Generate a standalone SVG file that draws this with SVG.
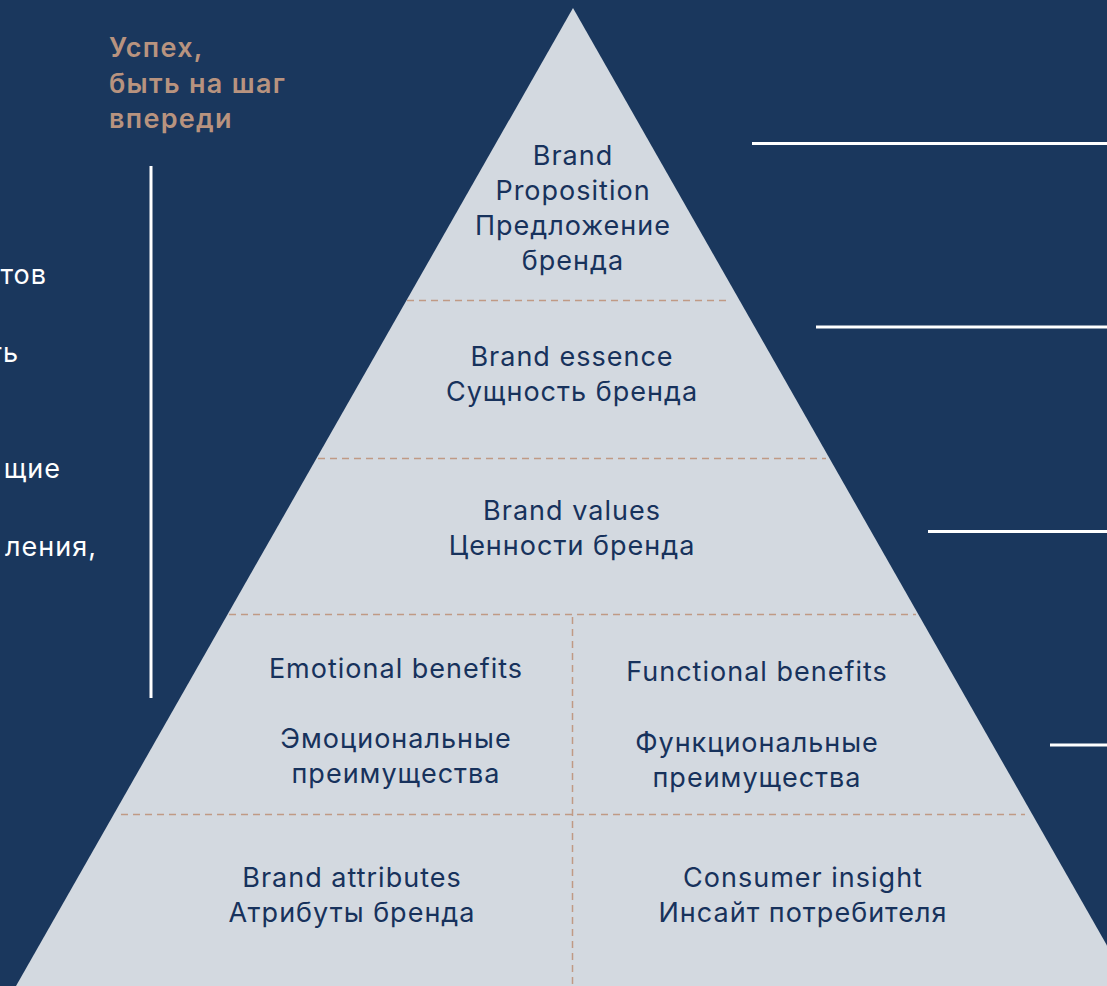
<svg xmlns="http://www.w3.org/2000/svg" width="1107" height="986" viewBox="0 0 1107 986">
  <style>
    .lbl { font-family: Inter, "Noto Sans", "Liberation Sans", sans-serif; font-size: 27px; letter-spacing: 1px; fill: #17325c; text-anchor: middle; }
    .side { font-family: Inter, "Noto Sans", "Liberation Sans", sans-serif; font-size: 27px; letter-spacing: 1px; fill: #ffffff; text-anchor: end; }
    .accent { font-family: Inter, "Noto Sans", "Liberation Sans", sans-serif; font-size: 27px; letter-spacing: 1.3px; font-weight: 600; fill: #b8937f; }
    .rule { stroke: #ffffff; stroke-width: 3; fill: none; }
    .dash { stroke: #c09a85; stroke-width: 1.5; stroke-dasharray: 7 5; fill: none; }
  </style>

  <!-- background -->
  <rect x="0" y="0" width="1107" height="986" fill="#1a375d"/>

  <!-- accent heading -->
  <g id="heading">
    <text class="accent" x="109" y="57">Успех,</text>
    <text class="accent" x="109" y="93">быть на шаг</text>
    <text class="accent" x="109" y="128">впереди</text>
  </g>

  <!-- left side text ends -->
  <g id="side-text">
    <text class="side" x="47" y="284">тов</text>
    <text class="side" x="19" y="362">ть</text>
    <text class="side" x="61" y="478">щие</text>
    <text class="side" x="97" y="556">ления,</text>
  </g>

  <!-- pyramid body -->
  <g id="pyramid">
    <polygon points="573,8 1130,986 16,986" fill="#d3d9e0"/>
  </g>

  <!-- dividers and rules -->
  <g id="connectors">
    <line class="dash" x1="407" y1="300.5" x2="731" y2="300.5"/>
    <line class="dash" x1="318" y1="458.5" x2="826" y2="458.5"/>
    <line class="dash" x1="229" y1="614.5" x2="916" y2="614.5"/>
    <line class="dash" x1="121" y1="814.5" x2="1025" y2="814.5"/>
    <line class="dash" x1="572.5" y1="617" x2="572.5" y2="986"/>

    <line class="rule" x1="151" y1="166" x2="151" y2="698"/>
    <line class="rule" x1="752" y1="143.5" x2="1107" y2="143.5"/>
    <line class="rule" x1="816" y1="327" x2="1107" y2="327"/>
    <line class="rule" x1="928" y1="531.5" x2="1107" y2="531.5"/>
    <line class="rule" x1="1050" y1="745" x2="1107" y2="745"/>
  </g>

  <g id="brand-proposition">
    <text class="lbl" x="573" y="165">Brand</text>
    <text class="lbl" x="573" y="200">Proposition</text>
    <text class="lbl" x="573" y="235">Предложение</text>
    <text class="lbl" x="573" y="270">бренда</text>
  </g>

  <g id="brand-essence">
    <text class="lbl" x="572" y="366">Brand essence</text>
    <text class="lbl" x="572" y="401">Сущность бренда</text>
  </g>

  <g id="brand-values">
    <text class="lbl" x="572" y="520">Brand values</text>
    <text class="lbl" x="572" y="555">Ценности бренда</text>
  </g>

  <g id="emotional-benefits">
    <text class="lbl" x="396" y="678">Emotional benefits</text>
    <text class="lbl" x="396" y="748">Эмоциональные</text>
    <text class="lbl" x="396" y="783">преимущества</text>
  </g>

  <g id="functional-benefits">
    <text class="lbl" x="757" y="681">Functional benefits</text>
    <text class="lbl" x="757" y="752">Функциональные</text>
    <text class="lbl" x="757" y="787">преимущества</text>
  </g>

  <g id="brand-attributes">
    <text class="lbl" x="352" y="887">Brand attributes</text>
    <text class="lbl" x="352" y="922">Атрибуты бренда</text>
  </g>

  <g id="consumer-insight">
    <text class="lbl" x="803" y="887">Consumer insight</text>
    <text class="lbl" x="803" y="922">Инсайт потребителя</text>
  </g>
</svg>
